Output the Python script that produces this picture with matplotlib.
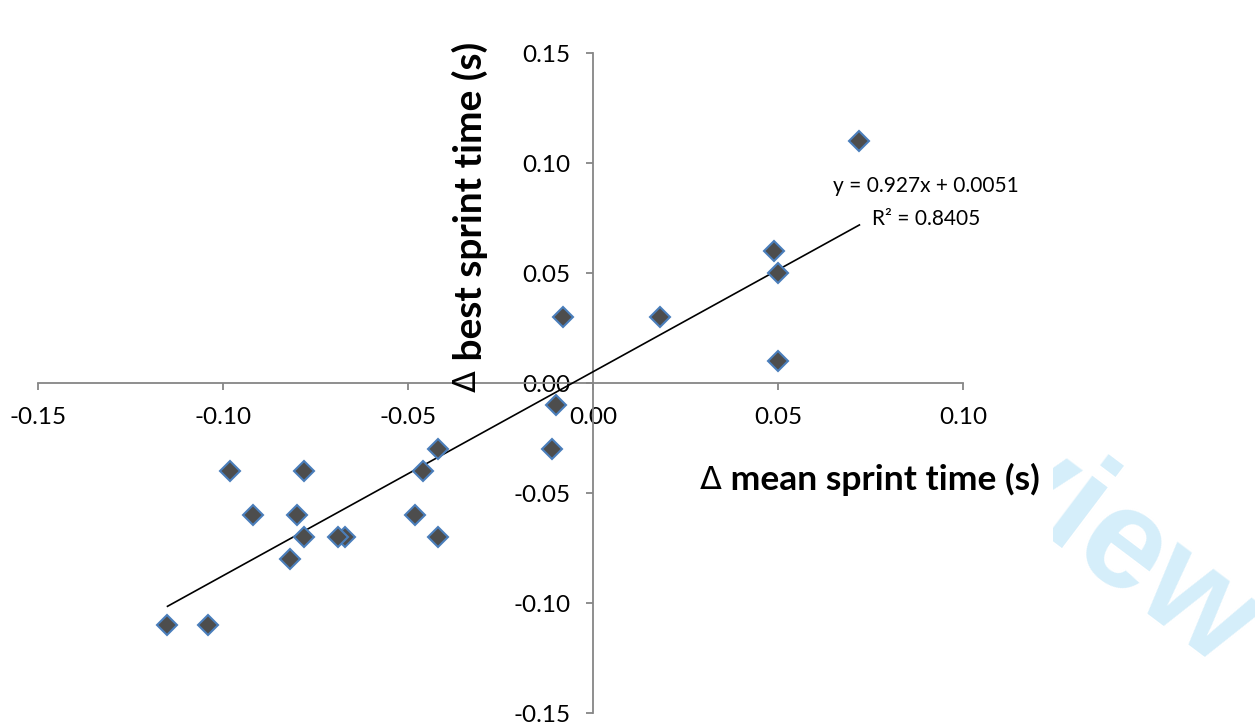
import matplotlib.pyplot as plt
from matplotlib.transforms import Bbox

# cambio en tiempo medio vs. cambio en mejor tiempo de sprint
mean_change = [0.072, 0.049, 0.050, 0.050, 0.018, -0.008, -0.010, -0.011,
               -0.042, -0.046, -0.048, -0.042, -0.067, -0.069, -0.078,
               -0.098, -0.092, -0.080, -0.078, -0.082, -0.115, -0.104]
best_change = [0.11, 0.06, 0.05, 0.01, 0.03, 0.03, -0.01, -0.03,
               -0.03, -0.04, -0.06, -0.07, -0.07, -0.07, -0.04,
               -0.04, -0.06, -0.06, -0.07, -0.08, -0.11, -0.11]
slope = 0.927
intercept = 0.0051
r2 = 0.8405
x_ticks = [-0.15, -0.10, -0.05, 0.00, 0.05, 0.10]
y_ticks = [-0.15, -0.10, -0.05, 0.00, 0.05, 0.10, 0.15]

W, H = 1255, 727
fig = plt.figure(figsize=(W / 100, H / 100), dpi=100)
plt.rcParams['font.family'] = ['Lato', 'DejaVu Sans']

# marca de agua, solo visible a la derecha del gráfico
wm = fig.text(1220 / W, (H - 668) / H, 'For Peer Review', fontsize=102,
              family='Liberation Sans', fontweight='bold', color='#d5eefa',
              rotation=-37, rotation_mode='anchor', ha='right', va='baseline',
              zorder=0)
wm.set_clip_box(Bbox([[1053, 0], [W, H]]))

ax = fig.add_axes([38 / W, 14 / H, 925 / W, 660 / H])
ax.set_xlim(-0.15, 0.10)
ax.set_ylim(-0.15, 0.15)
ax.patch.set_alpha(0)

for s in ['top', 'right']:
    ax.spines[s].set_visible(False)
ax.spines['left'].set_position(('data', 0))
ax.spines['bottom'].set_position(('data', 0))
for s in ['left', 'bottom']:
    ax.spines[s].set_color('#868686')
    ax.spines[s].set_linewidth(1.3)

ax.set_xticks(x_ticks)
ax.set_yticks(y_ticks)
ax.set_xticklabels([f'{v:.2f}' for v in x_ticks])
ax.set_yticklabels([f'{v:.2f}' for v in y_ticks])
ax.tick_params(axis='both', direction='out', length=5, width=1.3,
               color='#868686', labelsize=17.5, labelcolor='black')
ax.tick_params(axis='x', pad=12)
ax.tick_params(axis='y', pad=11)

# línea de tendencia
xs = [min(mean_change), max(mean_change)]
ax.plot(xs, [slope * v + intercept for v in xs], color='black', lw=1.2, zorder=3)

ax.plot(mean_change, best_change, linestyle='none', marker='D', ms=10,
        markerfacecolor='#4d4d4d', markeredgecolor='#4a7ebb',
        markeredgewidth=1.5, zorder=4)

ax.text(0.090, 0.0895, f'y = {slope}x + {intercept}', fontsize=15,
        ha='center', va='center')
ax.text(0.090, 0.0745, f'R² = {r2}', fontsize=15, ha='center', va='center')

# etiquetas de ejes: Δ en fuente normal y el resto en negrita
dx = fig.text(700 / W, (H - 489) / H, 'Δ', fontsize=23, family='DejaVu Sans',
              fontweight='normal', va='baseline', ha='left')
ax.annotate(' mean sprint time (s)', xy=(1, 0), xycoords=dx, fontsize=25.5,
            fontweight='bold', va='bottom', ha='left', annotation_clip=False)

dy = fig.text(483 / W, (H - 392) / H, 'Δ', fontsize=23, family='DejaVu Sans',
              fontweight='normal', rotation=90, va='bottom', ha='right')
ax.annotate(' best sprint time (s)', xy=(0, 1), xycoords=dy, fontsize=28,
            fontweight='bold', rotation=90, va='bottom', ha='left',
            annotation_clip=False)

fig.savefig('out.png', dpi=100)
